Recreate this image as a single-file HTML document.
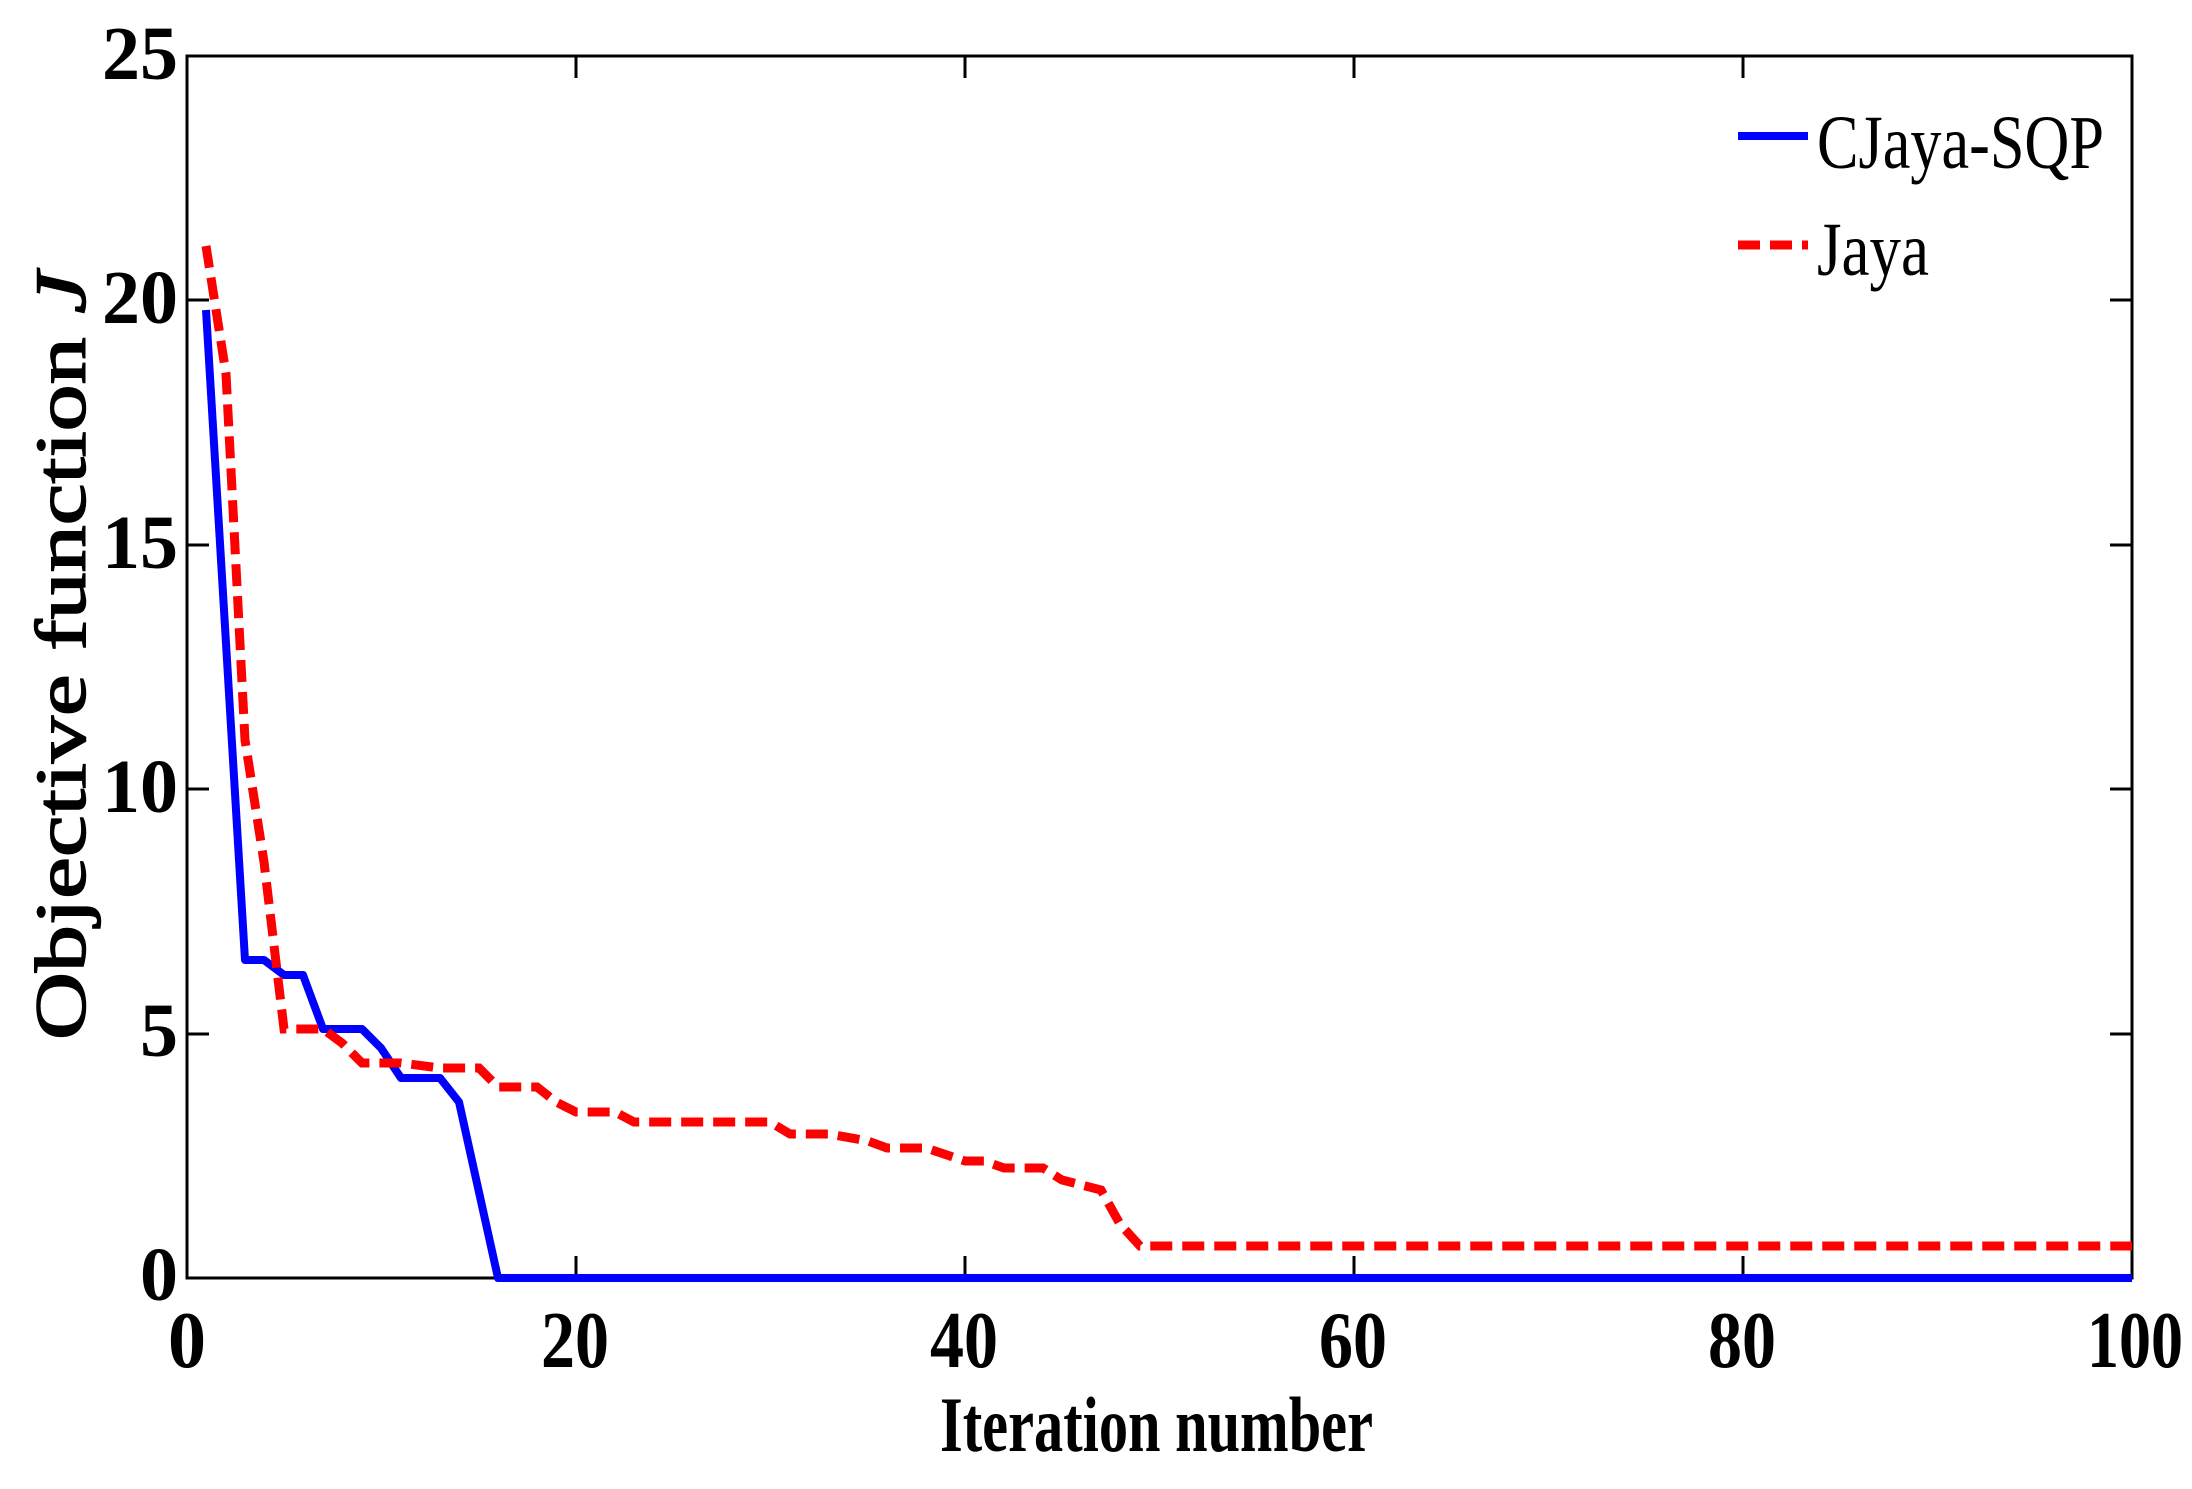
<!DOCTYPE html>
<html><head><style>body{margin:0;background:#fff}svg{display:block}</style></head>
<body>
<svg width="2192" height="1489" viewBox="0 0 2192 1489" xmlns="http://www.w3.org/2000/svg">
<rect width="2192" height="1489" fill="#fff"/>
<g font-family="Liberation Serif, serif" fill="#000">
<g font-size="76" font-weight="bold" text-anchor="end">
<text x="178" y="1300">0</text>
<text x="178" y="1056">5</text>
<text x="178" y="812">10</text>
<text x="178" y="568">15</text>
<text x="178" y="323">20</text>
<text x="178" y="79">25</text>
</g>
<g font-size="80" font-weight="bold">
<text x="168" y="1367" textLength="38" lengthAdjust="spacingAndGlyphs">0</text>
<text x="541" y="1367" textLength="68" lengthAdjust="spacingAndGlyphs">20</text>
<text x="930" y="1367" textLength="68" lengthAdjust="spacingAndGlyphs">40</text>
<text x="1319" y="1367" textLength="68" lengthAdjust="spacingAndGlyphs">60</text>
<text x="1708" y="1367" textLength="68" lengthAdjust="spacingAndGlyphs">80</text>
<text x="2087" y="1367" textLength="96" lengthAdjust="spacingAndGlyphs">100</text>
</g>
<text x="940" y="1451" font-size="78" font-weight="bold" textLength="433" lengthAdjust="spacingAndGlyphs">Iteration number</text>
<text transform="translate(85,1040) rotate(-90)" font-size="72" textLength="768" lengthAdjust="spacingAndGlyphs" stroke="#000" stroke-width="1.5">Objective function <tspan font-style="italic">J</tspan></text>
<text x="1817" y="168" font-size="76" textLength="287" lengthAdjust="spacingAndGlyphs">CJaya-SQP</text>
<text x="1817" y="275" font-size="76" textLength="112" lengthAdjust="spacingAndGlyphs">Jaya</text>
</g>
<g stroke="#000" stroke-width="3" fill="none">
<rect x="187" y="56" width="1945" height="1222"/>
<path d="M576 1278v-22M965 1278v-22M1354 1278v-22M1743 1278v-22M576 56v22M965 56v22M1354 56v22M1743 56v22
M187 1034h22M187 789h22M187 545h22M187 300h22M2132 1034h-22M2132 789h-22M2132 545h-22M2132 300h-22"/>
</g>
<polyline fill="none" stroke="#00f" stroke-width="8" stroke-linejoin="round"
points="206,310 245,960 264,960 284,975 303,975 323,1029 362,1029 381,1048 401,1078 440,1078 459,1102 498,1278 2132,1278"/>
<polyline fill="none" stroke="#f00" stroke-width="9" stroke-dasharray="22,10"
points="206,246 226,374 245,740 264,862 284,1029 323,1029 342,1043 362,1063 401,1063 440,1068 479,1068 498,1087 537,1087 556,1102 576,1112 615,1112 634,1122 770,1122 790,1134 829,1134 868,1141 887,1148 926,1148 965,1161 984,1161 1004,1168 1043,1168 1062,1180 1101,1190 1120,1224 1140,1246 2132,1246"/>
<line x1="1738" y1="136" x2="1808" y2="136" stroke="#00f" stroke-width="8"/>
<line x1="1738" y1="245" x2="1808" y2="245" stroke="#f00" stroke-width="9" stroke-dasharray="22,10"/>
</svg>
</body></html>
